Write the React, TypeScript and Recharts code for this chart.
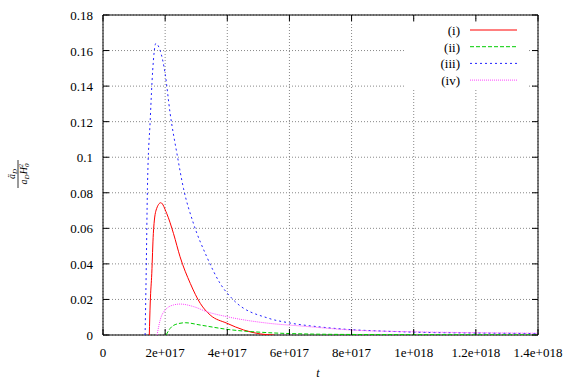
import { LineChart, Line, XAxis, YAxis, CartesianGrid, ReferenceArea } from "recharts";

// t in units of 1e17
const seriesI = [
  [1.49, 0], [1.52, 0.018], [1.57, 0.0347], [1.62, 0.057], [1.71, 0.0703], [1.86, 0.0744],
  [2.05, 0.0684], [2.27, 0.057], [2.48, 0.044], [2.81, 0.029], [3.13, 0.0178], [3.45, 0.01125],
  [3.99, 0.0066], [4.53, 0.0028], [5.06, 0.0006], [5.5, 0],
];
const seriesII = [
  [2.03, 0], [2.16, 0.0037], [2.38, 0.0062], [2.65, 0.0069], [3.13, 0.0056], [3.99, 0.0032],
  [5.33, 0.0013], [6.5, 0.0006], [8.0, 0.0003], [10, 0.0002], [14, 0.0001],
];
const seriesIII = [
  [1.355, 0], [1.39, 0.035], [1.43, 0.0825], [1.52, 0.121], [1.6, 0.149], [1.7, 0.164],
  [1.84, 0.16], [2.0, 0.147], [2.16, 0.1247], [2.38, 0.102], [2.59, 0.0825], [2.91, 0.0628],
  [3.34, 0.044], [3.77, 0.029], [4.2, 0.0197], [5.33, 0.0094], [6.0, 0.0068], [7.0, 0.0045],
  [8.0, 0.003], [9.0, 0.0022], [10, 0.0016], [12, 0.0011], [14, 0.0008],
];
const seriesIV = [
  [1.74, 0], [1.84, 0.0084], [2.0, 0.014], [2.27, 0.0169], [2.48, 0.0174], [2.91, 0.016],
  [3.34, 0.0131], [3.99, 0.0103], [5.33, 0.0066], [6.35, 0.0051], [8.0, 0.0028], [10, 0.0018],
  [12, 0.0013], [14, 0.001],
];

const seriesNames = ["(i)", "(ii)", "(iii)", "(iv)"];
const seriesColors = ["#ff0000", "#00cc00", "#2222ff", "#ff44ff"];
const seriesDash = ["0", "4 2", "2 3", "1 1"];

const xTicks = [0, 2e17, 4e17, 6e17, 8e17, 1e18, 1.2e18, 1.4e18];
const xTickLabels = ["0", "2e+017", "4e+017", "6e+017", "8e+017", "1e+018", "1.2e+018", "1.4e+018"];
const yTicks = [0, 0.02, 0.04, 0.06, 0.08, 0.1, 0.12, 0.14, 0.16, 0.18];
const yTickLabels = ["0", "0.02", "0.04", "0.06", "0.08", "0.1", "0.12", "0.14", "0.16", "0.18"];

const W = 564;
const H = 383;
const PLOT_LEFT = 103;
const PLOT_RIGHT = 538;
const PLOT_TOP = 15;
const PLOT_BOTTOM = 335;
// no serif face available here, Liberation Sans is the closest in width
const FONT = "Liberation Serif, Times New Roman, Liberation Sans, Arial, sans-serif";
const FS = 13;

const toPoints = (arr: number[][]) => arr.map(([t, v]) => ({ t: t * 1e17, v }));
const allSeries = [seriesI, seriesII, seriesIII, seriesIV].map(toPoints);

const XTick = ({ x, index }: any) => (
  <g>
    <line x1={x} x2={x} y1={PLOT_BOTTOM} y2={PLOT_BOTTOM - 6} stroke="#000" />
    <line x1={x} x2={x} y1={PLOT_TOP} y2={PLOT_TOP + 6} stroke="#000" />
    <text x={x} y={PLOT_BOTTOM + 22} textAnchor="middle" fontSize={FS} style={{ fontFamily: FONT }} fill="#000">
      {xTickLabels[index]}
    </text>
  </g>
);

const YTick = ({ y, index }: any) => (
  <g>
    <line x1={PLOT_LEFT} x2={PLOT_LEFT + 6} y1={y} y2={y} stroke="#000" />
    <line x1={PLOT_RIGHT - 6} x2={PLOT_RIGHT} y1={y} y2={y} stroke="#000" />
    <text x={PLOT_LEFT - 10} y={y + 5} textAnchor="end" fontSize={FS} style={{ fontFamily: FONT }} fill="#000">
      {yTickLabels[index]}
    </text>
  </g>
);

export default function App() {
  return (
    <div style={{ position: "absolute", left: 0, top: 0, width: W, height: H, background: "#fff", fontFamily: FONT }}>
      <LineChart width={W} height={H} margin={{ top: PLOT_TOP, right: W - PLOT_RIGHT, bottom: 0, left: 0 }}>
        <CartesianGrid stroke="#888" strokeDasharray="1 2" />
        <XAxis
          dataKey="t"
          type="number"
          domain={[0, 1.4e18]}
          ticks={xTicks}
          tick={<XTick />}
          tickLine={false}
          axisLine={false}
          height={H - PLOT_BOTTOM}
          interval={0}
          allowDataOverflow
        />
        <YAxis
          type="number"
          domain={[0, 0.18]}
          ticks={yTicks}
          tick={<YTick />}
          tickLine={false}
          axisLine={false}
          width={PLOT_LEFT}
          interval={0}
          allowDataOverflow
        />
        {allSeries.map((pts, i) => (
          <Line
            key={seriesNames[i]}
            data={pts}
            dataKey="v"
            name={seriesNames[i]}
            type="monotone"
            stroke={seriesColors[i]}
            strokeWidth={1}
            strokeDasharray={seriesDash[i]}
            dot={false}
            isAnimationActive={false}
          />
        ))}
        <ReferenceArea x1={0} x2={1.4e18} y1={0} y2={0.18} fill="none" stroke="#000" strokeWidth={1} />
      </LineChart>

      {/* legend, gnuplot style: labels right aligned, sample line to the right */}
      <svg style={{ position: "absolute", left: 405, top: 22 }} width={124} height={68}>
        <rect x={0} y={0} width={124} height={68} fill="#fff" />
        {seriesNames.map((name, i) => (
          <g key={name}>
            <text x={55} y={13 + i * 16.7} textAnchor="end" fontSize={FS} style={{ fontFamily: FONT }} fill="#000">
              {name}
            </text>
            <line
              x1={65}
              x2={112}
              y1={8 + i * 16.7}
              y2={8 + i * 16.7}
              stroke={seriesColors[i]}
              strokeDasharray={seriesDash[i]}
            />
          </g>
        ))}
      </svg>

      {/* y axis label */}
      <svg style={{ position: "absolute", left: 0, top: 0 }} width={40} height={H}>
        <g transform="translate(18,174) rotate(-90)" style={{ fontFamily: FONT }} fill="#000">
          <text x={0} y={-3} textAnchor="middle" fontSize={10} fontStyle="italic">
            ä<tspan fontSize={7} dy={2}>D</tspan>
          </text>
          <line x1={-14} x2={14} y1={0} y2={0} stroke="#000" strokeWidth={0.8} />
          <text x={0} y={9} textAnchor="middle" fontSize={10} fontStyle="italic">
            a<tspan fontSize={7} dy={2}>D</tspan>
            <tspan dy={-2}>H</tspan>
            <tspan fontSize={7} dy={2}>0</tspan>
            <tspan fontSize={7} dx={-4} dy={-6}>2</tspan>
          </text>
        </g>
      </svg>

      {/* x axis label */}
      <div
        style={{
          position: "absolute",
          left: 0,
          width: W,
          top: 366,
          textAlign: "center",
          paddingLeft: 72,
          boxSizing: "border-box",
          fontStyle: "italic",
          fontSize: 12,
        }}
      >
        t
      </div>
    </div>
  );
}
